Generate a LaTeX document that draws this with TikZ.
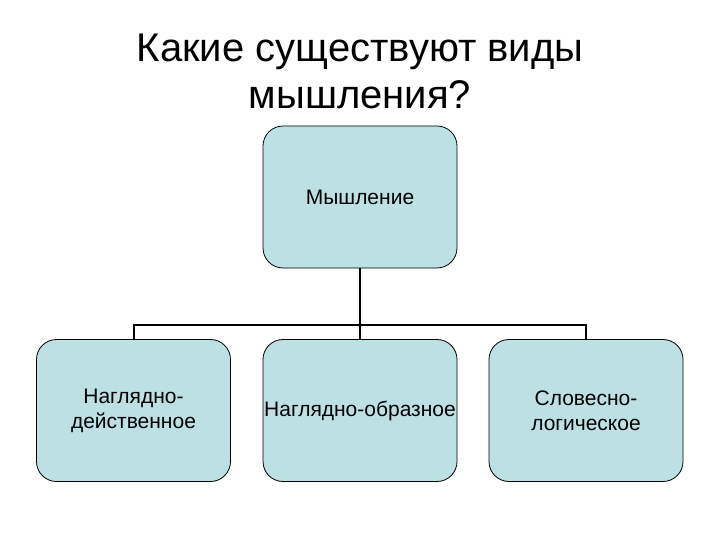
\documentclass[tikz,border=0pt]{standalone}
\usepackage{fontspec}
\setmainfont{Liberation Sans}
\definecolor{boxfill}{RGB}{189,224,227}
\begin{document}
\begin{tikzpicture}[x=1bp,y=-1bp,
  box/.style={draw=black, line width=0.8bp, fill=boxfill, rounded corners=20bp,
    minimum width=194bp, minimum height=142bp, align=center,
    font=\fontsize{21bp}{25bp}\selectfont, inner sep=0pt},
  conn/.style={draw=black, line width=2bp}]
\useasboundingbox (0,0) rectangle (720,540);
\node[align=center, font=\fontsize{40bp}{47bp}\selectfont] (title) at (360,71) {Какие существуют виды\\мышления?};
\node[box] (top) at (360,197) {Мышление};
\node[box] (l) at (133.5,410.5) {Наглядно-\\действенное};
\node[box] (m) at (360,410.5) {Наглядно-образное};
\node[box] (r) at (586,410.5) {Словесно-\\логическое};
\coordinate (bus) at (360,325);
\draw[conn, line width=2.5bp] (top.south) -- (m.north);
\draw[conn] (l.north) |- (bus) -| (r.north);
\end{tikzpicture}
\end{document}
